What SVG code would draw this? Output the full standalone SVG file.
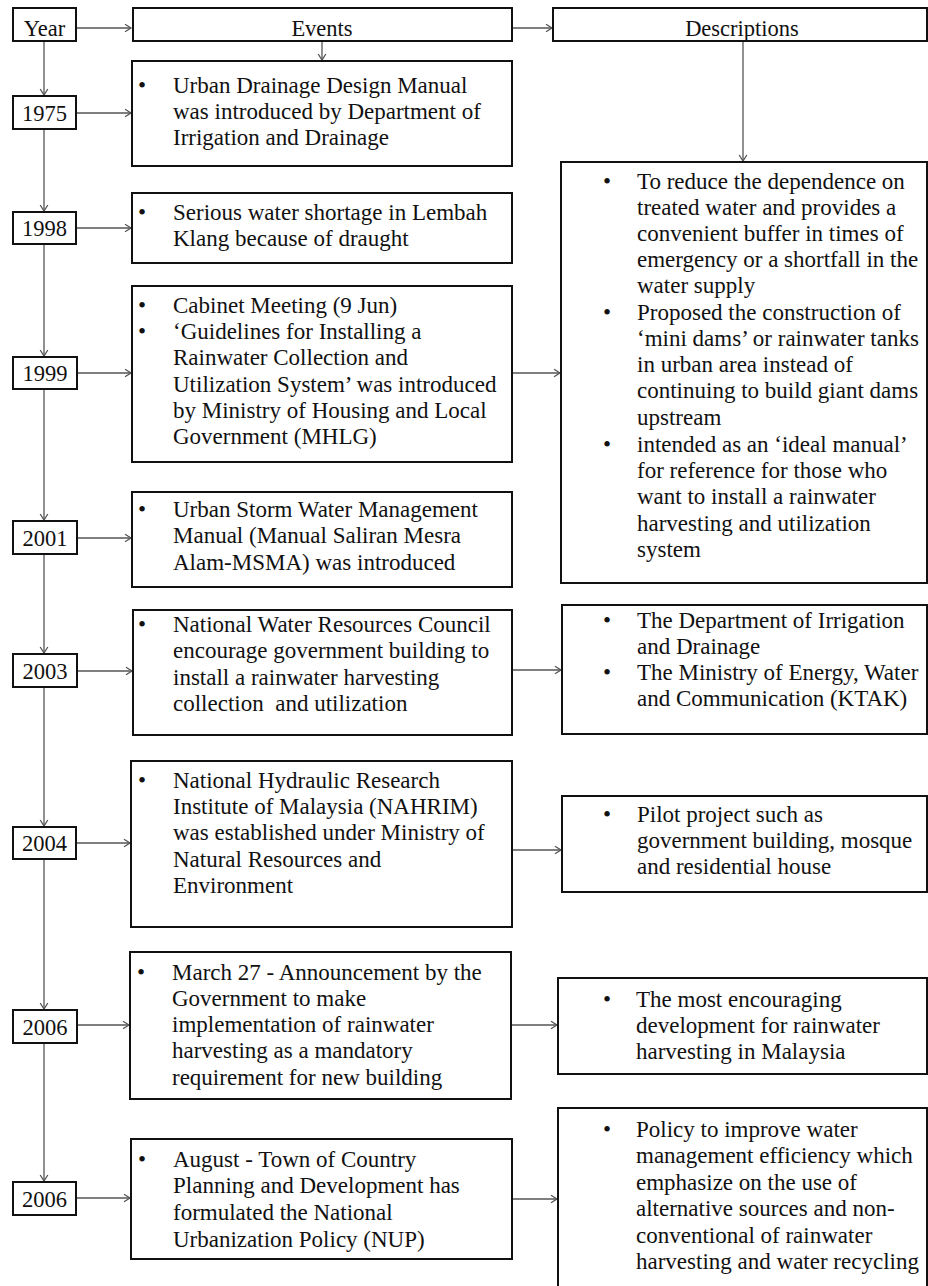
<svg xmlns="http://www.w3.org/2000/svg" width="928" height="1286" viewBox="0 0 928 1286">
  <style>
    .box { fill: #fff; stroke: #111; stroke-width: 2; }
    .conn { fill: none; stroke: #555; stroke-width: 1.3; }
    text { font-family: "Liberation Serif", "Times New Roman", serif; font-size: 23px; fill: #111; }
    .c { text-anchor: middle; font-size: 22.5px; }
  </style>
  <defs>
    <marker id="arr" markerUnits="userSpaceOnUse" markerWidth="10" markerHeight="10" refX="7" refY="5" orient="auto">
      <path d="M1,1.2 L7,5 L1,8.8" fill="none" stroke="#555" stroke-width="1.3"/>
    </marker>
  </defs>
  <rect width="928" height="1286" fill="#fff"/>

  <!-- connectors -->
  <g id="connectors" class="conn" marker-end="url(#arr)">
    <line x1="77" y1="28" x2="131" y2="28"/>
    <line x1="512" y1="28" x2="552" y2="28"/>
    <line x1="322" y1="41" x2="322" y2="60"/>
    <line x1="743" y1="41" x2="743" y2="161"/>
    <!-- year spine -->
    <line x1="44" y1="41" x2="44" y2="95"/>
    <line x1="44" y1="129" x2="44" y2="211"/>
    <line x1="44" y1="244" x2="44" y2="356"/>
    <line x1="44" y1="389" x2="44" y2="520"/>
    <line x1="44" y1="554" x2="44" y2="653"/>
    <line x1="44" y1="687" x2="44" y2="826"/>
    <line x1="44" y1="859" x2="44" y2="1009"/>
    <line x1="44" y1="1043" x2="44" y2="1181"/>
    <!-- year to event -->
    <line x1="77" y1="113" x2="131" y2="113"/>
    <line x1="77" y1="228" x2="131" y2="228"/>
    <line x1="77" y1="373" x2="131" y2="373"/>
    <line x1="77" y1="538" x2="131" y2="538"/>
    <line x1="77" y1="671" x2="132" y2="671"/>
    <line x1="77" y1="843" x2="130" y2="843"/>
    <line x1="77" y1="1025" x2="129" y2="1025"/>
    <line x1="77" y1="1198" x2="130" y2="1198"/>
    <!-- event to description -->
    <line x1="512" y1="373" x2="560" y2="373"/>
    <line x1="512" y1="670" x2="561" y2="670"/>
    <line x1="512" y1="850" x2="561" y2="850"/>
    <line x1="511" y1="1025" x2="557" y2="1025"/>
    <line x1="512" y1="1199" x2="557" y2="1199"/>
  </g>

  <!-- header row -->
  <g id="hdr-year"><rect class="box" x="13" y="8" width="63" height="33"/><text class="c" x="44.5" y="36">Year</text></g>
  <g id="hdr-events"><rect class="box" x="133" y="8" width="379" height="33"/><text class="c" x="322" y="36">Events</text></g>
  <g id="hdr-desc"><rect class="box" x="553" y="8" width="374" height="33"/><text class="c" x="742" y="36">Descriptions</text></g>

  <!-- year boxes -->
  <g id="y1975"><rect class="box" x="13" y="96" width="63" height="33"/><text class="c" x="44.5" y="121">1975</text></g>
  <g id="y1998"><rect class="box" x="13" y="212" width="63" height="32"/><text class="c" x="44.5" y="236">1998</text></g>
  <g id="y1999"><rect class="box" x="13" y="357" width="64" height="32"/><text class="c" x="45" y="381">1999</text></g>
  <g id="y2001"><rect class="box" x="13" y="521" width="64" height="33"/><text class="c" x="45" y="546">2001</text></g>
  <g id="y2003"><rect class="box" x="13" y="654" width="64" height="33"/><text class="c" x="45" y="679">2003</text></g>
  <g id="y2004"><rect class="box" x="13" y="827" width="63" height="32"/><text class="c" x="44.5" y="851">2004</text></g>
  <g id="y2006a"><rect class="box" x="13" y="1010" width="64" height="33"/><text class="c" x="45" y="1035">2006</text></g>
  <g id="y2006b"><rect class="box" x="13" y="1182" width="63" height="33"/><text class="c" x="44.5" y="1207">2006</text></g>

  <!-- event boxes -->
  <g id="ev1975">
    <rect class="box" x="132" y="61" width="380" height="105"/>
    <text x="138" y="93">•</text>
    <text x="173" y="93">Urban Drainage Design Manual</text>
    <text x="173" y="119">was introduced by Department of</text>
    <text x="173" y="145">Irrigation and Drainage</text>
  </g>
  <g id="ev1998">
    <rect class="box" x="132" y="193" width="380" height="70"/>
    <text x="138" y="220">•</text>
    <text x="173" y="220">Serious water shortage in Lembah</text>
    <text x="173" y="246">Klang because of draught</text>
  </g>
  <g id="ev1999">
    <rect class="box" x="132" y="286" width="380" height="176"/>
    <text x="138" y="313">•</text>
    <text x="173" y="313">Cabinet Meeting (9 Jun)</text>
    <text x="138" y="339">•</text>
    <text x="173" y="339">‘Guidelines for Installing a</text>
    <text x="173" y="365">Rainwater Collection and</text>
    <text x="173" y="392">Utilization System’ was introduced</text>
    <text x="173" y="418">by Ministry of Housing and Local</text>
    <text x="173" y="444">Government (MHLG)</text>
  </g>
  <g id="ev2001">
    <rect class="box" x="132" y="492" width="380" height="95"/>
    <text x="138" y="517">•</text>
    <text x="173" y="517">Urban Storm Water Management</text>
    <text x="173" y="543">Manual (Manual Saliran Mesra</text>
    <text x="173" y="570">Alam-MSMA) was introduced</text>
  </g>
  <g id="ev2003">
    <rect class="box" x="133" y="610" width="379" height="125"/>
    <text x="138" y="632">•</text>
    <text x="173" y="632">National Water Resources Council</text>
    <text x="173" y="658">encourage government building to</text>
    <text x="173" y="685">install a rainwater harvesting</text>
    <text x="173" y="711" xml:space="preserve">collection  and utilization</text>
  </g>
  <g id="ev2004">
    <rect class="box" x="131" y="761" width="381" height="166"/>
    <text x="138" y="788">•</text>
    <text x="173" y="788">National Hydraulic Research</text>
    <text x="173" y="814">Institute of Malaysia (NAHRIM)</text>
    <text x="173" y="840">was established under Ministry of</text>
    <text x="173" y="867">Natural Resources and</text>
    <text x="173" y="893">Environment</text>
  </g>
  <g id="ev2006a">
    <rect class="box" x="130" y="952" width="381" height="147"/>
    <text x="137" y="980">•</text>
    <text x="172" y="980">March 27 - Announcement by the</text>
    <text x="172" y="1006">Government to make</text>
    <text x="172" y="1032">implementation of rainwater</text>
    <text x="172" y="1058">harvesting as a mandatory</text>
    <text x="172" y="1085">requirement for new building</text>
  </g>
  <g id="ev2006b">
    <rect class="box" x="131" y="1139" width="381" height="120"/>
    <text x="138" y="1167">•</text>
    <text x="173" y="1167">August - Town of Country</text>
    <text x="173" y="1193">Planning and Development has</text>
    <text x="173" y="1220">formulated the National</text>
    <text x="173" y="1247">Urbanization Policy (NUP)</text>
  </g>

  <!-- description boxes -->
  <g id="desc1999">
    <rect class="box" x="561" y="162" width="366" height="421"/>
    <text x="603" y="189">•</text>
    <text x="637" y="189">To reduce the dependence on</text>
    <text x="637" y="215">treated water and provides a</text>
    <text x="637" y="241">convenient buffer in times of</text>
    <text x="637" y="267">emergency or a shortfall in the</text>
    <text x="637" y="293">water supply</text>
    <text x="603" y="320">•</text>
    <text x="637" y="320">Proposed the construction of</text>
    <text x="637" y="346">‘mini dams’ or rainwater tanks</text>
    <text x="637" y="372">in urban area instead of</text>
    <text x="637" y="398">continuing to build giant dams</text>
    <text x="637" y="425">upstream</text>
    <text x="603" y="452">•</text>
    <text x="637" y="452">intended as an ‘ideal manual’</text>
    <text x="637" y="478">for reference for those who</text>
    <text x="637" y="504">want to install a rainwater</text>
    <text x="637" y="531">harvesting and utilization</text>
    <text x="637" y="557">system</text>
  </g>
  <g id="desc2003">
    <rect class="box" x="562" y="605" width="365" height="129"/>
    <text x="603" y="628">•</text>
    <text x="637" y="628">The Department of Irrigation</text>
    <text x="637" y="654">and Drainage</text>
    <text x="603" y="680">•</text>
    <text x="637" y="680">The Ministry of Energy, Water</text>
    <text x="637" y="706">and Communication (KTAK)</text>
  </g>
  <g id="desc2004">
    <rect class="box" x="562" y="796" width="365" height="96"/>
    <text x="603" y="822">•</text>
    <text x="637" y="822">Pilot project such as</text>
    <text x="637" y="848">government building, mosque</text>
    <text x="637" y="874">and residential house</text>
  </g>
  <g id="desc2006a">
    <rect class="box" x="558" y="978" width="369" height="96"/>
    <text x="603" y="1007">•</text>
    <text x="636" y="1007">The most encouraging</text>
    <text x="636" y="1033">development for rainwater</text>
    <text x="636" y="1059">harvesting in Malaysia</text>
  </g>
  <g id="desc2006b">
    <rect class="box" x="558" y="1108" width="369" height="190"/>
    <text x="603" y="1137">•</text>
    <text x="636" y="1137">Policy to improve water</text>
    <text x="636" y="1163">management efficiency which</text>
    <text x="636" y="1190">emphasize on the use of</text>
    <text x="636" y="1216">alternative sources and non-</text>
    <text x="636" y="1243">conventional of rainwater</text>
    <text x="636" y="1269">harvesting and water recycling</text>
  </g>
</svg>
